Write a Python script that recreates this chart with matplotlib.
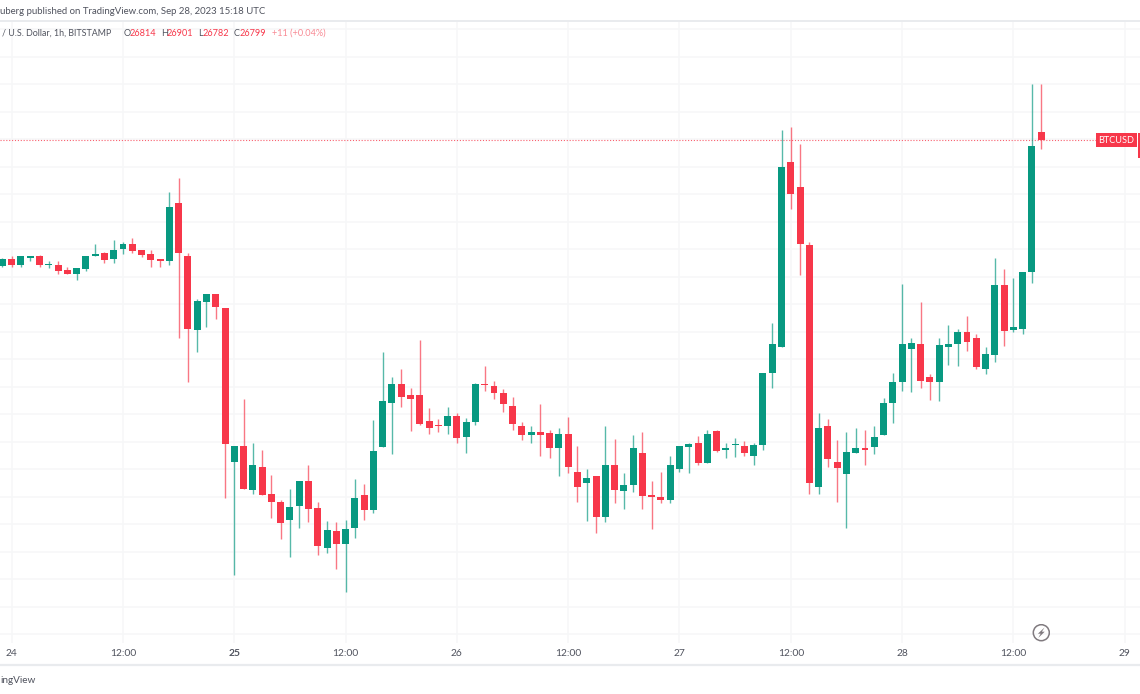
import numpy as np
import matplotlib
matplotlib.use("Agg")
import matplotlib.pyplot as plt
from matplotlib.patches import Circle, Polygon, Rectangle
from matplotlib.lines import Line2D

first_hour = -1  # hours after Sep 24 00:00
opens = [26569,26582,26572,26585,26588,26571,26572,26563,26555,26564,26587,26593,26582,26600,26610,26598,26592,26582,26578,26684,26588,26453,26505,26518,26493,26213,26242,26162,26204,26155,26141,26108,26133,26179,26129,26057,26088,26064,26093,26153,26126,26241,26320,26355,26335,26335,26288,26281,26278,26297,26259,26286,26356,26352,26339,26316,26278,26263,26267,26266,26239,26264,26195,26175,26188,26114,26208,26161,26172,26230,26153,26150,26144,26201,26241,26248,26212,26270,26236,26244,26242,26224,26244,26376,26423,26759,26713,26608,26168,26279,26213,26192,26230,26238,26240,26262,26320,26358,26419,26427,26367,26358,26422,26428,26449,26438,26382,26408,26536,26453,26456,26559,26814]
highs = [26585,26587,26587,26587,26589,26578,26578,26568,26566,26588,26610,26595,26617,26613,26620,26599,26598,26582,26704,26730,26594,26509,26519,26519,26494,26242,26328,26248,26236,26189,26144,26164,26179,26208,26140,26106,26105,26108,26182,26173,26289,26413,26368,26382,26347,26435,26311,26292,26313,26302,26294,26357,26387,26360,26346,26332,26286,26278,26319,26272,26275,26295,26242,26201,26188,26278,26255,26193,26262,26267,26179,26195,26225,26242,26248,26260,26272,26272,26248,26257,26252,26247,26376,26466,26817,26822,26792,26614,26302,26291,26253,26267,26275,26272,26278,26329,26375,26537,26438,26504,26373,26439,26462,26455,26479,26446,26422,26584,26564,26547,26559,26901,26901]
lows = [26567,26567,26567,26579,26568,26566,26556,26555,26544,26561,26587,26575,26575,26591,26594,26586,26568,26568,26571,26439,26359,26414,26458,26474,26148,26007,26165,26155,26153,26111,26073,26041,26093,26104,26044,26047,26018,25977,26075,26107,26120,26241,26227,26314,26269,26281,26264,26267,26264,26248,26230,26281,26343,26328,26305,26272,26253,26248,26225,26221,26187,26193,26141,26106,26085,26104,26139,26128,26159,26128,26092,26139,26139,26195,26193,26207,26212,26232,26221,26222,26224,26208,26235,26347,26423,26673,26553,26155,26155,26205,26141,26093,26230,26207,26228,26262,26284,26343,26341,26347,26326,26325,26390,26388,26415,26382,26373,26396,26424,26449,26446,26539,26782]
closes = [26582,26572,26587,26587,26572,26573,26561,26555,26566,26588,26591,26581,26599,26610,26597,26590,26581,26578,26677,26593,26456,26506,26519,26495,26246,26242,26165,26208,26153,26140,26102,26131,26179,26127,26061,26090,26064,26091,26148,26126,26233,26324,26356,26331,26328,26282,26276,26278,26297,26257,26286,26355,26353,26338,26318,26282,26262,26267,26263,26239,26264,26205,26168,26184,26114,26207,26162,26172,26239,26152,26149,26144,26207,26242,26246,26212,26264,26233,26239,26246,26230,26244,26376,26427,26749,26701,26609,26176,26276,26219,26202,26232,26239,26235,26259,26321,26359,26428,26429,26361,26358,26426,26427,26450,26432,26386,26409,26536,26452,26458,26559,26788,26799]

last_close = 26799
grid_prices = list(range(25900, 27001, 50))
tick_hours = [0, 12, 24, 36, 48, 60, 72, 84, 96, 108, 120]
tick_labels = ["24", "12:00", "25", "12:00", "26", "12:00", "27", "12:00", "28", "12:00", "29"]
bold_labels = ["25"]
symbol_label = "BTCUSD"
publisher_text = "uberg published on TradingView.com, Sep 28, 2023 15:18 UTC"
symbol_text = "/ U.S. Dollar, 1h, BITSTAMP"
ohlc_text = [("O", "26814"), ("H", "26901"), ("L", "26782"), ("C", "26799")]
change_text = "+11 (+0.04%)"
footer_text = "ingView"

UP = "#089981"
DOWN = "#F7374A"
GRID = "#F6F7F8"
FRAME = "#E9EBEE"
TEXT = "#50535E"
FONT = ["Lato", "DejaVu Sans"]

W, H = 1140, 694
fig = plt.figure(figsize=(W / 100, H / 100), dpi=100, facecolor="white")
top_px, bottom_px = 21.5, 643.0
ax = fig.add_axes([0, 1 - bottom_px / H, 1, (bottom_px - top_px) / H])
ax.set_xlim(-1.2615, 121.65)
ax.set_ylim(25884.2, 27014.2)
ax.axis("off")

ax.hlines(grid_prices, -2, 122, color=GRID, lw=1.1, zorder=1)
ax.vlines(tick_hours, 25884.2, 27014.2, color=GRID, lw=1.1, zorder=1)

hours = first_hour + np.arange(len(opens))
o, h, l, c = map(np.array, (opens, highs, lows, closes))
up = c >= o
colors = np.where(up, UP, DOWN)
ax.vlines(hours, l, h, colors=colors, lw=1.0, alpha=0.68, zorder=3)
body_h = np.maximum(np.abs(c - o), 2.0)
ax.bar(hours, body_h, bottom=np.minimum(o, c), width=0.75, color=colors, lw=0, zorder=4)

ax.axhline(last_close, xmax=1096 / W, color=DOWN, lw=0.8, ls=(0, (1, 1.6)), alpha=0.8, zorder=2)


def px(x, y):
    return x / W, 1 - y / H


# frame lines
for y_px, lw in ((21, 1.4), (665, 1.6)):
    fig.add_artist(Line2D([0, 1], [1 - y_px / H] * 2, color=FRAME, lw=lw))

# header
fx, fy = px(0, 11.5)
fig.text(fx, fy, publisher_text, fontsize=6.95, color=TEXT, family=FONT, va="center", ha="left")
fx, fy = px(1.5, 33)
fig.text(fx, fy, symbol_text, fontsize=6.4, color=TEXT, family=FONT, va="center", ha="left")
positions = [(124, 130), (161, 167), (198, 203), (234, 240)]
for (lab, val), (x1, x2) in zip(ohlc_text, positions):
    fig.text(x1 / W, fy, lab, fontsize=6.6, color=TEXT, family=FONT, va="center", ha="left")
    fig.text(x2 / W, fy, val, fontsize=6.6, color=DOWN, family=FONT, va="center", ha="left")
fig.text(272 / W, fy, change_text, fontsize=6.6, color="#F88A94", family=FONT, va="center", ha="left")

# time axis labels
for hr, lab in zip(tick_hours, tick_labels):
    fig.text(ax.transData.transform((hr, 26000))[0] / W, 1 - 654 / H, lab, fontsize=7.4, color=TEXT,
             family=FONT, ha="center", va="center",
             fontweight="bold" if lab in bold_labels else "normal")

# footer
fx, fy = px(0, 680.5)
fig.text(fx, fy, footer_text, fontsize=7.2, color=TEXT, family=FONT, va="center", ha="left")

# symbol tag
fig.add_artist(Rectangle(px(1096, 147.3), 40.7 / W, 14 / H, transform=fig.transFigure, color=DOWN, lw=0))
fig.add_artist(Rectangle(px(1137.8, 158.3), 2.2 / W, 25 / H, transform=fig.transFigure, color=DOWN, lw=0))
fx, fy = px(1116.3, 140.4)
fig.text(fx, fy, symbol_label, fontsize=6.6, color="white", family=FONT, ha="center", va="center")

# lightning icon, in pixel units
icon = fig.add_axes([1032.3 / W, 1 - 641.7 / H, 18 / W, 18 / H])
icon.set_xlim(-9, 9)
icon.set_ylim(9, -9)
icon.axis("off")
icon.add_patch(Circle((0, 0), 8.0, fc="none", ec="#807A7F", lw=1.1))
icon.add_patch(Polygon([(3.2, -5.2), (-3.4, 1.0), (-0.6, 1.0), (-3.0, 5.2), (3.4, -1.0), (0.6, -1.0)],
                       fc="#807A7F", ec="none"))

fig.savefig("out.png", dpi=100, facecolor="white")
